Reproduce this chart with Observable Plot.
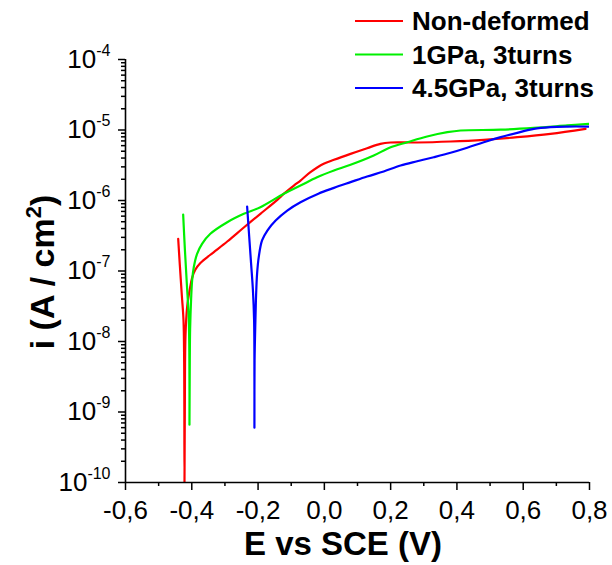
<!DOCTYPE html>
<html><head><meta charset="utf-8">
<script src="https://cdn.jsdelivr.net/npm/d3@7"></script>
<script src="https://cdn.jsdelivr.net/npm/@observablehq/plot@0.6"></script>
<style>
body{margin:0;background:#fff}
#chart{position:relative;width:612px;height:565px}
svg{font-family:"Liberation Sans",Arial,sans-serif}
</style>
</head><body><div id="chart"></div><script>
const seriesNames = ["Non-deformed", "1GPa, 3turns", "4.5GPa, 3turns"];
const seriesColors = ["#ff0000", "#00f000", "#0000ff"];

// Non-deformed (red)
const redE = [-0.441, -0.436, -0.430, -0.425, -0.423, -0.422, -0.421, -0.419, -0.414, -0.406, -0.399, -0.389, -0.374, -0.344, -0.293, -0.243, -0.193, -0.142, -0.122, -0.092, -0.072, -0.042, -0.002, 0.029, 0.079, 0.129, 0.169, 0.200, 0.280, 0.381, 0.481, 0.582, 0.682, 0.788];
const redI = [2.86e-7, 1.2e-7, 4.5e-8, 2.0e-8, 5e-9, 1e-10, 1e-9, 1.2e-8, 3.1e-8, 5.5e-8, 8e-8, 1.05e-7, 1.3e-7, 1.7e-7, 2.62e-7, 4.14e-7, 6.47e-7, 1.02e-6, 1.25e-6, 1.63e-6, 1.92e-6, 2.52e-6, 3.32e-6, 3.78e-6, 4.59e-6, 5.52e-6, 6.37e-6, 6.65e-6, 6.65e-6, 6.87e-6, 7.26e-6, 7.91e-6, 8.83e-6, 1.04e-5];

// 1GPa, 3turns (green)
const greenE = [-0.426, -0.421, -0.415, -0.409, -0.407, -0.407, -0.406, -0.405, -0.402, -0.399, -0.394, -0.384, -0.369, -0.344, -0.293, -0.243, -0.193, -0.122, -0.072, -0.022, 0.029, 0.079, 0.149, 0.200, 0.250, 0.310, 0.371, 0.411, 0.532, 0.632, 0.733, 0.798];
const greenI = [6.3e-7, 2.09e-7, 6.65e-8, 2.0e-8, 2.8e-9, 6.6e-10, 5.4e-9, 1.5e-8, 4e-8, 7.3e-8, 1.13e-7, 1.75e-7, 2.43e-7, 3.37e-7, 4.92e-7, 6.47e-7, 8.04e-7, 1.25e-6, 1.63e-6, 2.14e-6, 2.67e-6, 3.21e-6, 4.35e-6, 5.70e-6, 6.71e-6, 8.09e-6, 9.31e-6, 9.84e-6, 1.01e-5, 1.07e-5, 1.16e-5, 1.22e-5];

// 4.5GPa, 3turns (blue)
const blueE = [-0.233, -0.227, -0.221, -0.2155, -0.212, -0.211, -0.211, -0.2105, -0.208, -0.206, -0.203, -0.198, -0.188, -0.172, -0.147, -0.112, -0.072, -0.018, 0.029, 0.079, 0.129, 0.179, 0.230, 0.280, 0.330, 0.381, 0.431, 0.481, 0.532, 0.582, 0.632, 0.682, 0.733, 0.798];
const blueI = [8.2e-7, 3.19e-7, 1.26e-7, 5.3e-8, 2.0e-8, 2.8e-9, 6.0e-10, 5.4e-9, 2.0e-8, 4.5e-8, 9.1e-8, 1.57e-7, 2.71e-7, 3.75e-7, 5.2e-7, 7.21e-7, 9.46e-7, 1.25e-6, 1.51e-6, 1.82e-6, 2.19e-6, 2.58e-6, 3.13e-6, 3.60e-6, 4.11e-6, 4.75e-6, 5.60e-6, 6.71e-6, 7.91e-6, 9.12e-6, 1.04e-5, 1.10e-5, 1.12e-5, 1.12e-5];

const xMajor = [-0.6, -0.4, -0.2, 0.0, 0.2, 0.4, 0.6, 0.8];
const xMinor = [-0.5, -0.3, -0.1, 0.1, 0.3, 0.5, 0.7];
const yMajor = [1e-10, 1e-9, 1e-8, 1e-7, 1e-6, 1e-5, 1e-4];
const yMinorMantissa = [2, 3, 4, 5, 6, 7, 8, 9];

const xTitle = "E vs SCE (V)";
const yTitle = ["i (A / cm", "2", ")"];

const allE = [redE, greenE, blueE];
const allI = [redI, greenI, blueI];
const rows = [];
allE.forEach((es, s) => es.forEach((e, k) => rows.push({series: seriesNames[s], E: e, i: allI[s][k]})));
const yMinor = [];
yMajor.slice(0, -1).forEach(d => yMinorMantissa.forEach(m => yMinor.push(d * m)));

const svg = Plot.plot({
  width: 612, height: 565,
  marginLeft: 125, marginRight: 23, marginTop: 59, marginBottom: 83,
  style: {fontFamily: '"Liberation Sans", Arial, sans-serif', background: "#fff", overflow: "visible"},
  x: {domain: [-0.6, 0.8]},
  y: {type: "log", domain: [1e-10, 1e-4]},
  color: {domain: seriesNames, range: seriesColors},
  marks: [
    Plot.axisX({ticks: xMinor, tickSize: 4, tickFormat: () => "", label: null, strokeWidth: 1.5}),
    Plot.axisX({ticks: xMajor, tickSize: 8, tickPadding: 10, label: null, strokeWidth: 1.5, fontSize: 26,
      tickFormat: d => d.toFixed(1).replace(".", ",").replace("−", "-")}),
    Plot.axisY({ticks: yMinor, tickSize: 4, tickFormat: () => "", label: null, strokeWidth: 1.5}),
    Plot.axisY({ticks: yMajor, tickSize: 7, tickPadding: 8, label: null, strokeWidth: 1.5, fontSize: 26,
      tickFormat: d => String(Math.round(Math.log10(d)))}),
    Plot.line(rows, {x: "E", y: "i", z: "series", stroke: "series", strokeWidth: 2.2, curve: "catmull-rom", clip: true}),
    Plot.ruleX([-0.6], {strokeWidth: 1.6}),
    Plot.ruleY([1e-10], {strokeWidth: 1.6})
  ]
});

const sel = d3.select(svg);
// superscript exponents on the y tick labels
sel.selectAll('g[aria-label="y-axis tick label"] text').each(function() {
  const t = d3.select(this);
  const exp = t.text();
  if (!exp) { t.remove(); return; }
  t.text(null);
  t.append("tspan").text("10");
  t.append("tspan").attr("dy", -12).attr("font-size", 16).text(exp);
});
sel.selectAll('g[aria-label="x-axis tick label"] text').each(function() {
  if (!d3.select(this).text()) d3.select(this).remove();
});

// axis titles
sel.append("text").attr("x", 343).attr("y", 555).attr("text-anchor", "middle")
  .attr("font-size", 33).attr("font-weight", "bold").attr("fill", "#000").text(xTitle);
const yt = sel.append("text").attr("transform", "translate(54,272) rotate(-90)")
  .attr("text-anchor", "middle").attr("font-size", 34).attr("font-weight", "bold").attr("fill", "#000");
yt.append("tspan").text(yTitle[0]);
yt.append("tspan").attr("dy", -13).attr("font-size", 22).text(yTitle[1]);
yt.append("tspan").attr("dy", 13).text(yTitle[2]);

// legend
const lg = sel.append("g").attr("font-size", 26).attr("font-weight", "bold").attr("text-anchor", "start");
seriesNames.forEach((name, k) => {
  const y = 21 + k * 33.5;
  lg.append("line").attr("x1", 355).attr("x2", 403).attr("y1", y).attr("y2", y)
    .attr("stroke", seriesColors[k]).attr("stroke-width", 2.2);
  lg.append("text").attr("x", 412).attr("y", y).attr("dy", "0.35em").attr("text-anchor", "start")
    .attr("fill", "#000").text(name);
});

document.getElementById("chart").appendChild(svg);
</script></body></html>
